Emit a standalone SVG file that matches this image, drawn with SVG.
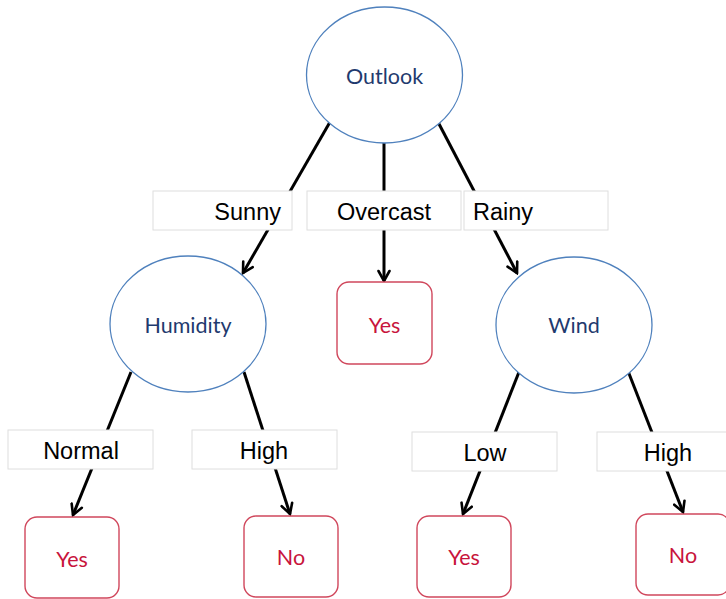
<svg xmlns="http://www.w3.org/2000/svg" width="726" height="599" viewBox="0 0 726 599">
  <style>
    .ell { fill: #ffffff; stroke: #4f81bd; stroke-width: 1.3; }
    .leaf { fill: #ffffff; stroke: #d0475c; stroke-width: 1.4; }
    .lbl { fill: #ffffff; stroke: #dedede; stroke-width: 1; }
    .edge { stroke: #000000; stroke-width: 3; fill: none; marker-end: url(#arr); }
    .ntext { font-family: Lato, "Liberation Sans", sans-serif; font-size: 21.5px; fill: #1f3a6e; text-anchor: middle; }
    .ltext { font-family: Lato, "Liberation Sans", sans-serif; font-size: 21.5px; fill: #c8143c; text-anchor: middle; }
    .etext { font-family: "Liberation Sans", Arial, sans-serif; font-size: 23.5px; fill: #000000; }
  </style>
  <defs>
    <marker id="arr" viewBox="0 0 14 14" refX="12" refY="7" markerWidth="14" markerHeight="14" markerUnits="userSpaceOnUse" orient="auto">
      <path d="M2,1.5 L12,7 L2,12.5" fill="none" stroke="#000000" stroke-width="2.6" stroke-linecap="round" stroke-linejoin="miter"/>
    </marker>
  </defs>
  <rect width="726" height="599" fill="#ffffff"/>

  <g id="connectors">
    <line class="edge" x1="330" y1="122" x2="243" y2="273"/>
    <line class="edge" x1="384" y1="143" x2="384" y2="281"/>
    <line class="edge" x1="438" y1="122" x2="517" y2="273"/>
    <line class="edge" x1="131" y1="372" x2="73" y2="515"/>
    <line class="edge" x1="244" y1="372" x2="290" y2="514"/>
    <line class="edge" x1="519" y1="372" x2="463" y2="514"/>
    <line class="edge" x1="628" y1="371" x2="683" y2="512"/>

    <g id="label-sunny">
      <rect class="lbl" x="153" y="191" width="139" height="39"/>
      <text class="etext" x="281" y="220" text-anchor="end">Sunny</text>
    </g>
    <g id="label-overcast">
      <rect class="lbl" x="307" y="191" width="154" height="39"/>
      <text class="etext" x="384" y="220" text-anchor="middle">Overcast</text>
    </g>
    <g id="label-rainy">
      <rect class="lbl" x="464" y="191" width="144" height="39"/>
      <text class="etext" x="473" y="220">Rainy</text>
    </g>
    <g id="label-normal">
      <rect class="lbl" x="8" y="430" width="145" height="39"/>
      <text class="etext" x="81" y="459" text-anchor="middle">Normal</text>
    </g>
    <g id="label-high1">
      <rect class="lbl" x="192" y="430" width="145" height="39"/>
      <text class="etext" x="264" y="459" text-anchor="middle">High</text>
    </g>
    <g id="label-low">
      <rect class="lbl" x="412" y="432" width="145" height="39"/>
      <text class="etext" x="485" y="461" text-anchor="middle">Low</text>
    </g>
    <g id="label-high2">
      <rect class="lbl" x="597" y="432" width="140" height="39"/>
      <text class="etext" x="668" y="461" text-anchor="middle">High</text>
    </g>
  </g>

  <g id="outlook">
    <ellipse class="ell" cx="384.5" cy="75" rx="78" ry="68"/>
    <text class="ntext" x="384.5" y="84">Outlook</text>
  </g>
  <g id="humidity">
    <ellipse class="ell" cx="188" cy="324" rx="78" ry="68"/>
    <text class="ntext" x="188" y="333">Humidity</text>
  </g>
  <g id="wind">
    <ellipse class="ell" cx="574" cy="325" rx="78" ry="68"/>
    <text class="ntext" x="574" y="333">Wind</text>
  </g>
  <g id="yes-overcast">
    <rect class="leaf" x="337" y="282" width="95" height="82" rx="12"/>
    <text class="ltext" x="384.5" y="333">Yes</text>
  </g>
  <g id="yes-normal">
    <rect class="leaf" x="25" y="517" width="94" height="81" rx="12"/>
    <text class="ltext" x="72" y="567">Yes</text>
  </g>
  <g id="no-high">
    <rect class="leaf" x="244" y="516" width="94" height="81" rx="12"/>
    <text class="ltext" x="291" y="565">No</text>
  </g>
  <g id="yes-low">
    <rect class="leaf" x="417" y="516" width="94" height="81" rx="12"/>
    <text class="ltext" x="464" y="565">Yes</text>
  </g>
  <g id="no-windhigh">
    <rect class="leaf" x="636" y="514" width="94" height="81" rx="12"/>
    <text class="ltext" x="683" y="563">No</text>
  </g>
</svg>
